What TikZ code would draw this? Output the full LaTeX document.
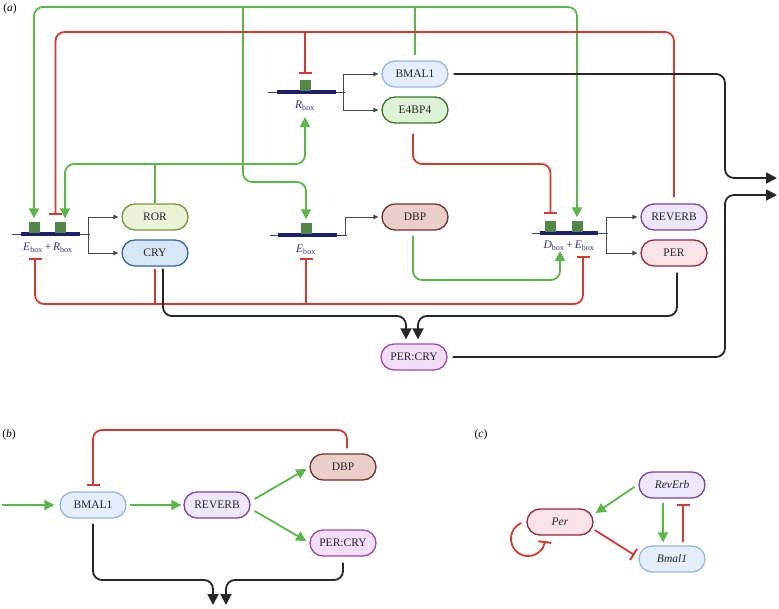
\documentclass[tikz,border=0pt]{standalone}
\usepackage{fontspec}
\setmainfont{Liberation Serif}
\usetikzlibrary{arrows.meta}
\definecolor{gline}{RGB}{90,182,70}
\definecolor{rline}{RGB}{212,58,48}
\definecolor{kline}{RGB}{38,38,38}
\definecolor{navy}{RGB}{30,30,110}
\definecolor{navyL}{RGB}{60,60,140}
\definecolor{gsq}{RGB}{82,135,72}
\definecolor{glab}{RGB}{50,50,130}
\definecolor{rorF}{RGB}{234,243,216}\definecolor{rorD}{RGB}{122,152,52}
\definecolor{cryF}{RGB}{216,231,245}\definecolor{cryD}{RGB}{52,104,160}
\definecolor{bmF}{RGB}{228,238,252}\definecolor{bmD}{RGB}{150,180,228}
\definecolor{e4F}{RGB}{222,242,214}\definecolor{e4D}{RGB}{58,118,40}
\definecolor{dbF}{RGB}{234,206,202}\definecolor{dbD}{RGB}{112,52,44}
\definecolor{revF}{RGB}{238,230,250}\definecolor{revD}{RGB}{118,70,168}
\definecolor{perF}{RGB}{249,226,232}\definecolor{perD}{RGB}{150,40,62}
\definecolor{pcF}{RGB}{242,222,248}\definecolor{pcD}{RGB}{160,72,172}
\begin{document}
\begin{tikzpicture}[x=1pt,y=-1pt,
  pill/.style={draw, line width=1.3pt, rounded corners=13pt, minimum width=66pt, minimum height=26pt, inner sep=0pt, font=\fontsize{11.5}{13}\selectfont, text=black!85},
  act/.style={draw=gline, line width=1.8pt, rounded corners=9pt, -{Triangle[width=10pt,length=10pt]}},
  act2/.style={act, {Triangle[width=10pt,length=10pt]}-{Triangle[width=10pt,length=10pt]}},
  gl/.style={draw=gline, line width=1.8pt},
  inh/.style={draw=rline, line width=1.8pt, rounded corners=9pt, -{Bar[width=13pt,line width=2pt]}},
  inh2/.style={inh, {Bar[width=13pt,line width=2pt]}-{Bar[width=13pt,line width=2pt]}},
  rl/.style={draw=rline, line width=1.8pt},
  flow/.style={draw=kline, line width=1.8pt, rounded corners=9pt, -{Triangle[width=11pt,length=11pt]}},
  tharr/.style={draw=kline!85, line width=0.9pt, -{Triangle[width=4.5pt,length=5pt]}},
  gthin/.style={draw=navyL, line width=1pt},
  gthick/.style={draw=navy, line width=4pt},
  gsquare/.style={fill=gsq, minimum width=11pt, minimum height=11pt, inner sep=0pt},
  glabel/.style={text=glab, font=\fontsize{11.5}{13}\selectfont, inner sep=0pt},
  plabel/.style={font=\fontsize{11.5}{13}\selectfont, inner sep=0pt}
]
\fill[white] (0,0) rectangle (779,608);
\useasboundingbox (0,0) rectangle (779,608);

% ---------------- panel (a) ----------------
\node[plabel] (la) at (10,9) {(\textit{a})};

% genes
\draw[gthin] (12,234) -- (90,234);  \draw[gthick] (21,234) -- (80,234);
\draw[gthin] (268,92) -- (345,92);  \draw[gthick] (277,92) -- (336,92);
\draw[gthin] (270,235) -- (347,235); \draw[gthick] (278,235) -- (337,235);
\draw[gthin] (532,233) -- (608,233); \draw[gthick] (540,233) -- (598,233);
\node[gsquare] (sqA) at (34,227) {};
\node[gsquare] (sqB) at (60.5,227) {};
\node[gsquare] (sqR) at (305,85) {};
\node[gsquare] (sqE) at (306,228) {};
\node[gsquare] (sqC) at (550.5,226) {};
\node[gsquare] (sqF) at (577,226) {};

\node[glabel] (lER) at (48,248) {\textit{E}\textsubscript{box}\,+\,\textit{R}\textsubscript{box}};
\node[glabel] (lR) at (305,106) {\textit{R}\textsubscript{box}};
\node[glabel] (lE) at (306,250) {\textit{E}\textsubscript{box}};
\node[glabel] (lDE) at (569,246) {\textit{D}\textsubscript{box}\,+\,\textit{E}\textsubscript{box}};

% nodes
\node[pill, fill=rorF, draw=rorD] (ror) at (155,217) {ROR};
\node[pill, fill=cryF, draw=cryD] (cry) at (155,253) {CRY};
\node[pill, fill=bmF, draw=bmD] (bmal) at (415,74) {BMAL1};
\node[pill, fill=e4F, draw=e4D] (e4) at (415,110) {E4BP4};
\node[pill, fill=dbF, draw=dbD] (dbp) at (415,217) {DBP};
\node[pill, fill=revF, draw=revD] (rev) at (674,217) {REVERB};
\node[pill, fill=perF, draw=perD] (per) at (674,253) {PER};
\node[pill, fill=pcF, draw=pcD] (pc) at (414,357) {PER:CRY};

% coordinates
\coordinate (gER) at (88,234);
\coordinate (gR) at (343,92);
\coordinate (gE) at (345,235);
\coordinate (gDE) at (606,233);
\coordinate (rIn) at (305,117);
\coordinate (dIn) at (560,251);
\coordinate (erIn) at (35,258);
\coordinate (eIn) at (306,258);
\coordinate (deIn) at (583,256);
\coordinate (outA) at (777,178);
\coordinate (outB) at (777,195);

% brackets
\draw[tharr] (gER) |- ([xshift=-3pt]ror.west);
\draw[tharr] (gER) |- ([xshift=-3pt]cry.west);
\draw[tharr] (gR) |- ([xshift=-3pt]bmal.west);
\draw[tharr] (gR) |- ([xshift=-3pt]e4.west);
\draw[tharr] (gE) |- ([xshift=-3pt]dbp.west);
\draw[tharr] (gDE) |- ([xshift=-3pt]rev.west);
\draw[tharr] (gDE) |- ([xshift=-3pt]per.west);

% green top
\draw[act2] ([yshift=3pt]sqA.north) |- (300,7) -| ([yshift=3pt]sqF.north);
\draw[gl] ([yshift=5pt]bmal.north) -- (415,7);
\draw[act] (243,7) |- (280,182) -| ([yshift=3pt]sqE.north);

% red top
\draw[inh] ([yshift=6pt]rev.north) |- (300,32) -| ([xshift=-5pt,yshift=6pt]sqB.north);
\draw[inh] (305,32) -- ([yshift=5pt]sqR.north);

% green ROR
\draw[act2] ([xshift=4.5pt,yshift=3pt]sqB.north) |- (200,164) -| (rIn);
\draw[gl] (ror.north) -- (155,164);

% E4BP4 and DBP to D+E
\draw[inh] ([xshift=-2pt,yshift=-10pt]e4.south) |- (480,164) -| ([yshift=6pt]sqC.north);
\draw[act] ([xshift=-2pt,yshift=-5pt]dbp.south) |- (480,280) -| (dIn);

% red bottom
\draw[inh2] (erIn) |- (300,304) -| (deIn);
\draw[rl] ([yshift=-2pt]cry.south) -- (155,304);
\draw[inh] (306,304) -- (eIn);

% black
\draw[flow] ([xshift=8pt,yshift=-2pt]cry.south) |- (300,316) -| ([xshift=-8pt,yshift=4pt]pc.north);
\draw[flow] ([xshift=3pt,yshift=-6pt]per.south) |- (500,316) -| ([xshift=4pt,yshift=4pt]pc.north);
\draw[flow] ([xshift=5pt]bmal.east) -| (725,178) -- (outA);
\draw[flow] ([xshift=5pt]pc.east) -| (725,195) -- (outB);

% ---------------- panel (b) ----------------
\node[plabel] (lb) at (9,435) {(\textit{b})};
\node[pill, fill=bmF, draw=bmD] (bB) at (93,505) {BMAL1};
\node[pill, fill=revF, draw=revD] (rB) at (217,505) {REVERB};
\node[pill, fill=dbF, draw=dbD] (dB) at (343,467) {DBP};
\node[pill, fill=pcF, draw=pcD] (pcB) at (343,543) {PER:CRY};
\coordinate (inB) at (2,505);
\coordinate (oB1) at (213,605);
\coordinate (oB2) at (226,605);

\draw[act] (inB) -- ([xshift=-5pt]bB.west);
\draw[act] ([xshift=3pt]bB.east) -- ([xshift=-2pt]rB.west);
\draw[act] ([shift={(4pt,6pt)}]rB.east) -- ([shift={(-3pt,-2pt)}]dB.west);
\draw[act] ([shift={(4pt,-6pt)}]rB.east) -- ([shift={(-3pt,2pt)}]pcB.west);
\draw[inh] ([xshift=4pt,yshift=5pt]dB.north) |- (200,430) -| ([yshift=5pt]bB.north);
\draw[flow] ([yshift=-5pt]bB.south) |- (150,580) -| (oB1);
\draw[flow] ([yshift=-6pt]pcB.south) |- (300,580) -| (oB2);

% ---------------- panel (c) ----------------
\node[plabel] (lc) at (481,435) {(\textit{c})};
\node[pill, fill=revF, draw=revD, font=\fontsize{11.5}{13}\selectfont\itshape] (rC) at (672,485) {RevErb};
\node[pill, fill=perF, draw=perD, font=\fontsize{11.5}{13}\selectfont\itshape] (pC) at (560,522) {Per};
\node[pill, fill=bmF, draw=bmD, font=\fontsize{11.5}{13}\selectfont\itshape] (bC) at (672,559) {Bmal1};

\draw[act] ([shift={(-4pt,-2pt)}]rC.west) -- ([shift={(2pt,9pt)}]pC.east);
\draw[act] ([xshift=-9pt,yshift=-4pt]rC.south) -- ([xshift=-9pt,yshift=3pt]bC.north);
\draw[inh] ([xshift=11pt,yshift=3pt]bC.north) -- ([xshift=11pt,yshift=-5pt]rC.south);
\draw[inh] ([shift={(1pt,-8pt)}]pC.east) -- ([shift={(-4pt,4pt)}]bC.west);
\draw[inh, sharp corners] ([xshift=-5pt,yshift=-1pt]pC.west) .. controls (514.1,525.9) and (509.7,534) .. (511.3,542.2)
   .. controls (512.9,550.4) and (520.2,556.3) .. (528.6,556)
   .. controls (536.9,555.7) and (543.9,549.4) .. (544.9,541.1);
\end{tikzpicture}
\end{document}
